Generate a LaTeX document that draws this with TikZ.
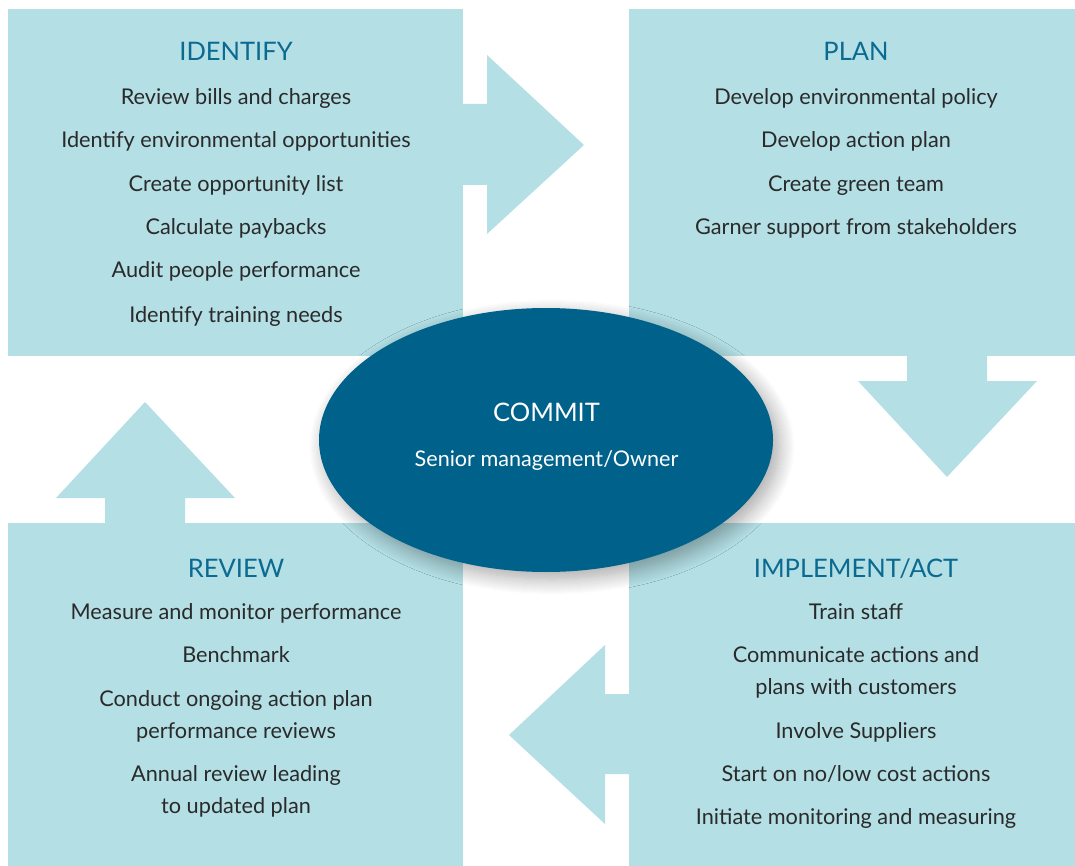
\documentclass[tikz,border=0pt]{standalone}
\usepackage{fontspec}
\setmainfont{Lato}
\usetikzlibrary{shapes.geometric,shadows.blur}
\definecolor{boxblue}{HTML}{B3DFE5}
\definecolor{titleblue}{HTML}{0B6A90}
\definecolor{commitblue}{HTML}{00628B}
\definecolor{txt}{HTML}{2A2A2A}
\tikzset{
  panel/.style={fill=boxblue, draw=none, anchor=north west, inner sep=0pt},
  flowarrow/.style={fill=boxblue, draw=none},
  ttl/.style={anchor=base, text=titleblue, font=\fontsize{25.5}{32}\selectfont, inner sep=0pt},
  itm/.style={anchor=base, text=txt, font=\fontsize{21.7}{32}\selectfont, inner sep=0pt},
  ctr/.style={anchor=base, text=white, inner sep=0pt}
}
\begin{document}
\begin{tikzpicture}[x=1pt,y=-1pt]
\useasboundingbox (0,0) rectangle (1075,866);
% panels
\node[panel, minimum width=455pt, minimum height=347pt] (idbox) at (8,9) {};
\node[panel, minimum width=446pt, minimum height=347pt] (plbox) at (629,9) {};
\node[panel, minimum width=455pt, minimum height=343pt] (rvbox) at (8,523) {};
\node[panel, minimum width=446pt, minimum height=343pt] (imbox) at (629,523) {};
% arrows
\fill[flowarrow] (462,104) -- (487,104) -- (487,55) -- (584,145) -- (487,234) -- (487,185) -- (462,185) -- cycle;
\fill[flowarrow] (907,355) -- (907,381) -- (858,381) -- (947,477) -- (1037,381) -- (987,381) -- (987,355) -- cycle;
\fill[flowarrow] (630,694) -- (605,694) -- (605,645) -- (509,735) -- (605,824) -- (605,774) -- (630,774) -- cycle;
\fill[flowarrow] (105,524) -- (105,498) -- (56,498) -- (145,402) -- (235,498) -- (185,498) -- (185,524) -- cycle;
% commit ellipse
\node[ellipse, fill=commitblue, minimum width=454pt, minimum height=264pt, inner sep=0pt,
  blur shadow={shadow xshift=6pt, shadow yshift=-7pt, shadow blur radius=16pt, shadow blur steps=16, shadow opacity=35}] (commit) at (546,440) {};
\node[ctr, font=\fontsize{25.5}{32}\selectfont] (committ) at (546.5,421) {COMMIT};
\node[ctr, font=\fontsize{21.6}{32}\selectfont] (commits) at (546.5,466) {Senior management/Owner};
% identify
\node[ttl] (idt) at (236,61) {IDENTIFY};
\node[itm] (id1) at (236,105) {Review bills and charges};
\node[itm] (id2) at (236,148) {Identify environmental opportunities};
\node[itm] (id3) at (236,192) {Create opportunity list};
\node[itm] (id4) at (236,235) {Calculate paybacks};
\node[itm] (id5) at (236,278) {Audit people performance};
\node[itm] (id6) at (236,322) {Identify training needs};
% plan
\node[ttl] (plt) at (856,61) {PLAN};
\node[itm] (pl1) at (856,105) {Develop environmental policy};
\node[itm] (pl2) at (856,148) {Develop action plan};
\node[itm] (pl3) at (856,192) {Create green team};
\node[itm] (pl4) at (856,235) {Garner support from stakeholders};
% review
\node[ttl] (rvt) at (236,577) {REVIEW};
\node[itm] (rv1) at (236,619) {Measure and monitor performance};
\node[itm] (rv2) at (236,662) {Benchmark};
\node[itm] (rv3a) at (236,706) {Conduct ongoing action plan};
\node[itm] (rv3b) at (236,738) {performance reviews};
\node[itm] (rv4a) at (236,781) {Annual review leading};
\node[itm] (rv4b) at (236,813) {to updated plan};
% implement
\node[ttl] (imt) at (856,577) {IMPLEMENT/ACT};
\node[itm] (im1) at (856,619) {Train staff};
\node[itm] (im2a) at (856,662) {Communicate actions and};
\node[itm] (im2b) at (856,694) {plans with customers};
\node[itm] (im3) at (856,738) {Involve Suppliers};
\node[itm] (im4) at (856,781) {Start on no/low cost actions};
\node[itm] (im5) at (856,824) {Initiate monitoring and measuring};
\end{tikzpicture}
\end{document}
